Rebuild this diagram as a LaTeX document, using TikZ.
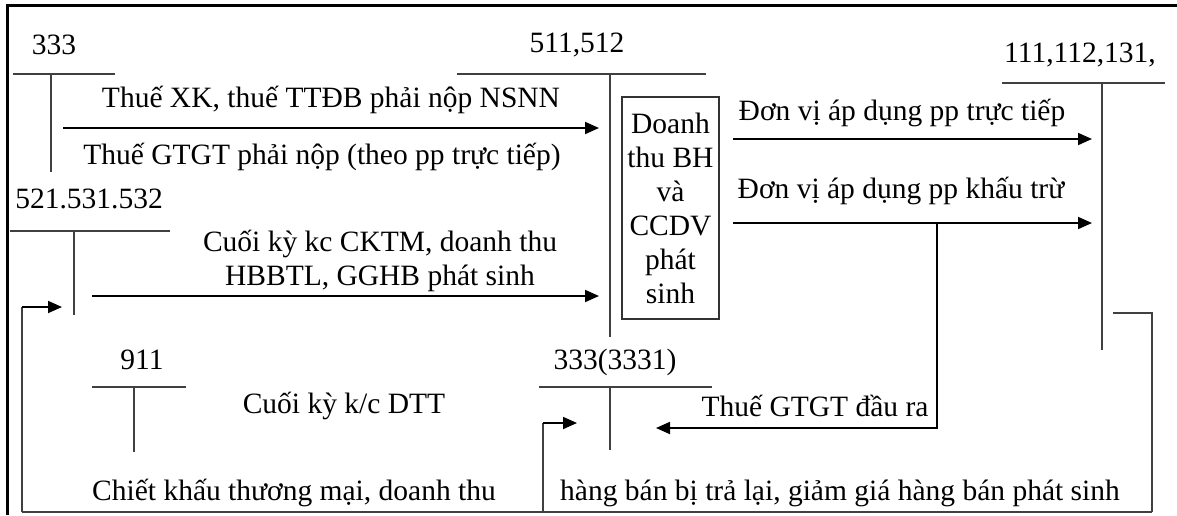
\documentclass[tikz,border=0pt]{standalone}
\usepackage{fontspec}
\setmainfont{Liberation Serif}
\usetikzlibrary{arrows.meta}
\tikzset{
  lbl/.style={inner sep=0pt, font=\fontsize{29.5}{34}\selectfont},
  tline/.style={draw=black!75, line width=1.4pt},
  arr/.style={draw=black, line width=1.8pt, -{Triangle[length=14pt,width=12pt]}},
  feed/.style={draw=black!75, line width=1.6pt},
  frame/.style={draw=black, line width=3pt},
}
\begin{document}
\begin{tikzpicture}[x=1pt,y=-1pt]
\useasboundingbox (0,0) rectangle (1177,515);
\fill[white] (0,0) rectangle (1177,515);
% frame
\draw[frame] (7,515) -- (7,5) -- (1177,5);

% ---- accounts ----
\node[lbl] (n333) at (54,45) {333};
\coordinate (h333a) at (13,74); \coordinate (h333b) at (115,74);
\coordinate (v333a) at (51,74); \coordinate (v333b) at (51,172);
\draw[tline] (h333a) -- (h333b); \draw[tline] (v333a) -- (v333b);

\node[lbl] (n511) at (577,45) {511,512};
\coordinate (h511a) at (457,74); \coordinate (h511b) at (706,74);
\coordinate (v511a) at (610,74); \coordinate (v511b) at (610,337);
\draw[tline] (h511a) -- (h511b); \draw[tline] (v511a) -- (v511b);

\node[lbl] (n111) at (1080,55) {111,112,131,};
\coordinate (h111a) at (1002,83); \coordinate (h111b) at (1165,83);
\coordinate (v111a) at (1102,83); \coordinate (v111b) at (1102,350);
\draw[tline] (h111a) -- (h111b); \draw[tline] (v111a) -- (v111b);

\node[lbl] (n521) at (89,199) {521.531.532};
\coordinate (h521a) at (10,231); \coordinate (h521b) at (170,231);
\coordinate (v521a) at (74,231); \coordinate (v521b) at (74,315);
\draw[tline] (h521a) -- (h521b); \draw[tline] (v521a) -- (v521b);

\node[lbl] (n911) at (142,360) {911};
\coordinate (h911a) at (92,387); \coordinate (h911b) at (186,387);
\coordinate (v911a) at (134,387); \coordinate (v911b) at (134,452);
\draw[tline] (h911a) -- (h911b); \draw[tline] (v911a) -- (v911b);

\node[lbl] (n3331) at (615,362) {333(3331)};
\coordinate (h3331a) at (539,387); \coordinate (h3331b) at (712,387);
\coordinate (v3331a) at (610,387); \coordinate (v3331b) at (610,450);
\draw[tline] (h3331a) -- (h3331b); \draw[tline] (v3331a) -- (v3331b);

% ---- central box ----
\node[lbl, draw=black!80, line width=1.4pt, minimum width=97pt, minimum height=222pt,
      align=center] (box) at (670.5,208)
  {Doanh\\thu BH\\và\\CCDV\\phát\\sinh};

% ---- arrows into 511 ----
\coordinate (a1s) at (63,128); \coordinate (a1e) at (599,128);
\draw[arr] (a1s) -- (a1e);
\node[lbl] (t1) at (331,100) {Thuế XK, thuế TTĐB phải nộp NSNN};
\node[lbl] (t2) at (322,157) {Thuế GTGT phải nộp (theo pp trực tiếp)};

\coordinate (a2s) at (92,296); \coordinate (a2e) at (599,296);
\draw[arr] (a2s) -- (a2e);
\node[lbl, align=center] (t3) at (380,261) {Cuối kỳ kc CKTM, doanh thu\\HBBTL, GGHB phát sinh};

% ---- arrows into 111 ----
\coordinate (a3s) at (733,139); \coordinate (a3e) at (1092,139);
\draw[arr] (a3s) -- (a3e);
\node[lbl] (t4) at (902,113) {Đơn vị áp dụng pp trực tiếp};

\coordinate (a4s) at (733,223); \coordinate (a4e) at (1092,223);
\draw[arr] (a4s) -- (a4e);
\node[lbl] (t5) at (901,191) {Đơn vị áp dụng pp khấu trừ};

% ---- VAT branch ----
\coordinate (b1) at (937,223); \coordinate (b2) at (937,428); \coordinate (b3) at (656,428);
\draw[arr] (b1) -- (b2) -- (b3);
\node[lbl] (t6) at (815,406) {Thuế GTGT đầu ra};

\node[lbl] (t7) at (344,406) {Cuối kỳ k/c DTT};

% ---- feedback paths ----
\coordinate (f1) at (1113,313); \coordinate (f2) at (1152,313);
\coordinate (f3) at (1152,512); \coordinate (f4) at (22,512);
\coordinate (f5) at (22,307); \coordinate (f6) at (62,307);
\draw[feed] (f1) -- (f2) -- (f3);
\draw[feed, line width=2.6pt] (f3) -- (f4);
\draw[feed] (f4) -- (f5);
\draw[arr] (f5) -- (f6);

\coordinate (g1) at (543,512); \coordinate (g2) at (543,423); \coordinate (g3) at (577,423);
\draw[feed] (g1) -- (g2);
\draw[arr] (g2) -- (g3);

\node[lbl] (t8) at (294,493) {Chiết khấu thương mại, doanh thu};
\node[lbl] (t9) at (840,493) {hàng bán bị trả lại, giảm giá hàng bán phát sinh};
\end{tikzpicture}
\end{document}
